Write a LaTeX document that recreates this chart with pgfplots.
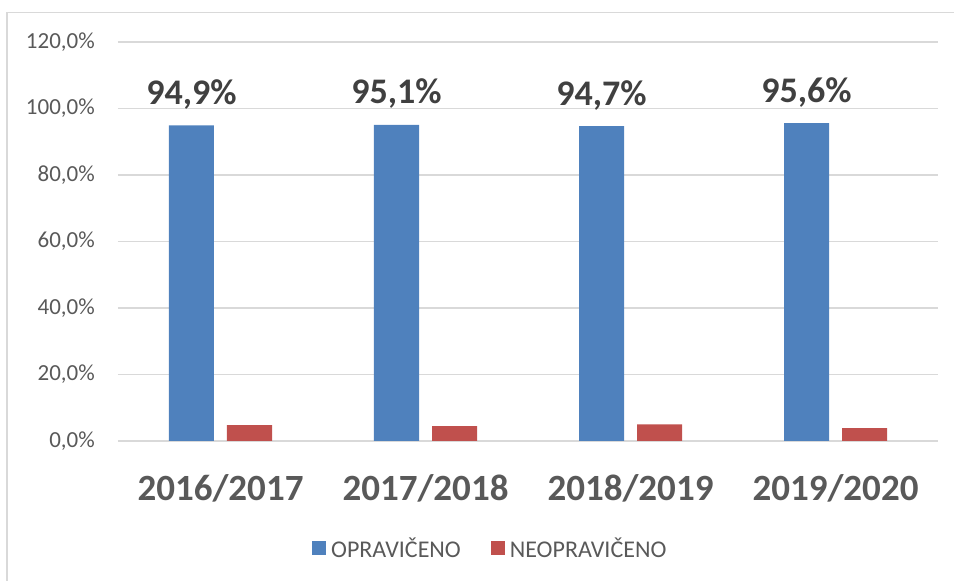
\documentclass[border=0pt]{standalone}
\usepackage{fontspec}
\setmainfont{Carlito}
\usepackage{pgfplots}
\pgfplotsset{compat=1.18}
\definecolor{cblue}{HTML}{4F81BD}
\definecolor{cred}{HTML}{C0504D}
\definecolor{cgrid}{HTML}{D9D9D9}
\definecolor{ctick}{HTML}{595959}
\definecolor{clab}{HTML}{404040}
\begin{document}
\begin{tikzpicture}[x=1pt,y=1pt]
\path[use as bounding box] (0,0) rectangle (954,581);
\draw[cgrid, line width=1.3pt] (7,0) -- (7,568.3) -- (954,568.3);
\begin{axis}[
  at={(118pt,140pt)}, anchor=south west,
  scale only axis, width=820pt, height=399pt,
  xmin=-0.5, xmax=3.5, ymin=0, ymax=120,
  ybar=13pt, bar width=45pt,
  axis line style={draw=none},
  major tick length=0pt,
  xtick=data,
  xticklabels={2016/2017,2017/2018,2018/2019,2019/2020},
  xticklabel style={font=\fontsize{37}{40}\selectfont\bfseries, text=ctick, anchor=base, yshift=-60pt, inner sep=0pt},
  ytick={0,20,40,60,80,100,120},
  yticklabels={{0,0\%},{20,0\%},{40,0\%},{60,0\%},{80,0\%},{100,0\%},{120,0\%}},
  yticklabel style={font=\fontsize{23}{25}\selectfont, text=ctick, inner sep=0pt, xshift=-23pt},
  ymajorgrids, grid style={cgrid, line width=1.5pt},
  legend columns=2,
  legend style={at={(0.454,-0.268)}, anchor=center, draw=none, fill=none,
    font=\fontsize{24}{26}\selectfont, text=ctick,
    /tikz/every odd column/.append style={column sep=3pt},
    /tikz/every even column/.append style={column sep=28pt}},
  legend image code/.code={\fill[#1] (0pt,-7pt) rectangle (14pt,7pt);},
]
\addplot[fill=cblue, draw=none,
  nodes near coords={\pgfmathprintnumber[fixed, fixed zerofill, precision=1, use comma, assume math mode=true]{\pgfplotspointmeta}\%},
  every node near coord/.append style={font=\fontsize{36}{40}\selectfont\bfseries, text=clab, anchor=base, yshift=21pt, inner sep=0pt}
] coordinates {(0,94.9) (1,95.1) (2,94.7) (3,95.6)};
\addplot[fill=cred, draw=none] coordinates {(0,4.8) (1,4.5) (2,5.0) (3,3.9)};
\legend{OPRAVIČENO, NEOPRAVIČENO}
\end{axis}
\end{tikzpicture}
\end{document}
